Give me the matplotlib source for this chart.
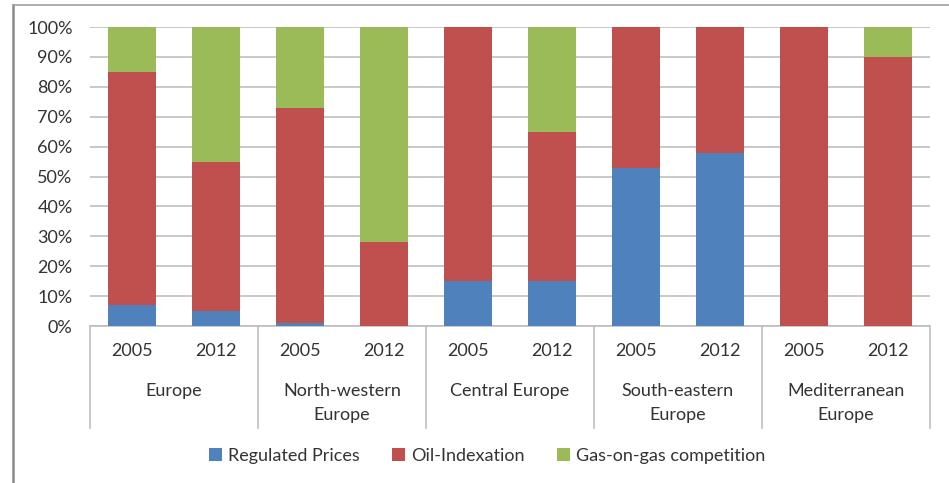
import matplotlib.pyplot as plt
import numpy as np
from matplotlib.lines import Line2D
from matplotlib.ticker import PercentFormatter

regions = ["Europe", "North-western\nEurope", "Central Europe",
           "South-eastern\nEurope", "Mediterranean\nEurope"]
years = ["2005", "2012"]

# share of each pricing mechanism, in %, two bars (2005, 2012) per region
regulated = [7, 5, 1, 0, 15, 15, 53, 58, 0, 0]
oil_index = [78, 50, 72, 28, 85, 50, 47, 42, 100, 90]
gas_on_gas = [15, 45, 27, 72, 0, 35, 0, 0, 0, 10]

BLUE = '#4F81BD'
RED = '#C0504D'
GREEN = '#9BBB59'
GRID = '#BFBFBF'
TEXT = '#333333'

plt.rcParams['font.family'] = ['Lato', 'DejaVu Sans']
plt.rcParams['font.size'] = 13


def draw_stacked_bars(ax):
    x = np.arange(len(regulated))
    reg = np.array(regulated)
    oil = np.array(oil_index)
    gas = np.array(gas_on_gas)
    w = 0.57
    b1 = ax.bar(x, reg, w, color=BLUE, label='Regulated Prices', zorder=3)
    b2 = ax.bar(x, oil, w, bottom=reg, color=RED, label='Oil-Indexation', zorder=3)
    b3 = ax.bar(x, gas, w, bottom=reg + oil, color=GREEN,
                label='Gas-on-gas competition', zorder=3)
    return x, (b1, b2, b3)


def draw_group_axis(ax, x):
    ax.set_xticks(x)
    ax.set_xticklabels(years * len(regions), color=TEXT)
    ax.tick_params(axis='x', length=0, pad=12)
    trans = ax.get_xaxis_transform()
    for i, name in enumerate(regions):
        ax.text(2 * i + 0.5, -0.19, name, transform=trans, ha='center', va='top',
                color=TEXT, linespacing=1.6)
    for k in range(len(regions) + 1):
        ax.add_line(Line2D([2 * k - 0.5] * 2, [0, -0.342], transform=trans,
                           color=GRID, lw=1.2, clip_on=False))


def main():
    fig = plt.figure(figsize=(9.49, 4.83), dpi=100)
    ax = fig.add_axes([0.0948, 0.325, 0.885, 0.619])

    x, bars = draw_stacked_bars(ax)
    ax.set_xlim(-0.5, len(x) - 0.5)
    ax.set_ylim(0, 100)
    ax.set_yticks(np.arange(0, 101, 10))
    ax.yaxis.set_major_formatter(PercentFormatter(decimals=0))
    ax.tick_params(axis='y', length=0, pad=12.5, colors=TEXT)
    ax.yaxis.grid(True, color=GRID, lw=1.2, zorder=0)
    ax.set_axisbelow(True)
    for side in ['left', 'right', 'top']:
        ax.spines[side].set_visible(False)
    ax.spines['bottom'].set_color(GRID)
    ax.spines['bottom'].set_linewidth(1.2)

    draw_group_axis(ax, x)

    fig.legend(bars, [b.get_label() for b in bars], loc='center',
               bbox_to_anchor=(0.513, 0.056), ncol=3, frameon=False,
               handlelength=0.75, handleheight=0.75, handletextpad=0.3,
               columnspacing=1.8, labelcolor=TEXT)

    # chart frame (left and top edges)
    fig.add_artist(Line2D([0.0135, 0.0135], [0, 0.99], color='#8a8a8a', lw=1.8))
    fig.add_artist(Line2D([0.0135, 1.0], [0.99, 0.99], color='#a0a0a0', lw=1.2))

    fig.savefig('out.png', dpi=100)


if __name__ == "__main__":
    main()
